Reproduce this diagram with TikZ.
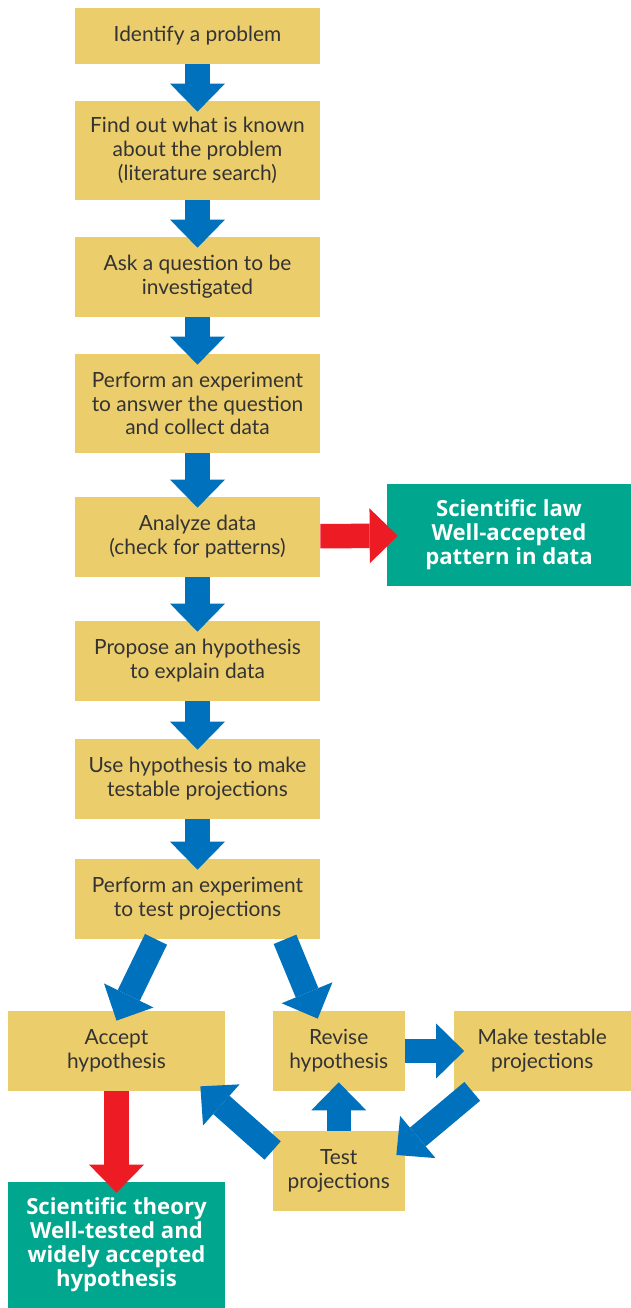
\documentclass[tikz,border=0pt]{standalone}
\usepackage{fontspec}
\setmainfont{Lato}
\newfontfamily\resultfont{Open Sans}
\usetikzlibrary{arrows.meta}
\definecolor{stepyellow}{RGB}{235,205,108}
\definecolor{flowblue}{RGB}{0,113,188}
\definecolor{resultred}{RGB}{237,28,36}
\definecolor{resultgreen}{RGB}{0,166,141}
\definecolor{textgray}{RGB}{51,51,51}

\begin{document}
\begin{tikzpicture}[
  stepbox/.style={fill=stepyellow, text=textgray, align=center, inner sep=0pt,
    minimum width=4.9cm, minimum height=1.6cm, font=\fontsize{11.9}{13.6}\selectfont},
  resultbox/.style={fill=resultgreen, text=white, align=center, inner sep=0pt,
    font=\resultfont\fontsize{12.6}{13.6}\selectfont\bfseries},
  flow/.style={draw=flowblue, line width=0.49cm,
    -{Triangle[length=0.56cm, width=1.1cm, line width=0pt]}},
  result/.style={flow, draw=resultred},
  into/.style={shorten >=-0.22cm}
]
  \useasboundingbox (0, 0) rectangle (12.62, 26.16);

  % main column
  \node [stepbox, minimum height=1.12cm] at (3.95, 25.44) (find) {Identify a problem};
  \node [stepbox, minimum height=1.98cm] at (3.95, 23.15) (known) {Find out what is known\\about the problem\\(literature search)};
  \node [stepbox] at (3.95, 20.62) (ask) {Ask a question to be\\investigated};
  \node [stepbox, minimum height=1.98cm] at (3.95, 18.09) (collect) {Perform an experiment\\to answer the question\\and collect data};
  \node [stepbox] at (3.95, 15.42) (analyze) {Analyze data\\(check for patterns)};
  \node [stepbox] at (3.95, 12.94) (propose) {Propose an hypothesis\\to explain data};
  \node [stepbox] at (3.95, 10.58) (project) {Use hypothesis to make\\testable projections};
  \node [stepbox] at (3.95, 8.18) (testexp) {Perform an experiment\\to test projections};

  % results
  \node [resultbox, minimum width=4.88cm, minimum height=2.04cm] at (10.18, 15.46) (law) {Scientific law\\Well-accepted\\pattern in data};
  \node [resultbox, minimum width=4.34cm, minimum height=2.52cm] at (2.33, 1.26) (theory) {Scientific theory\\Well-tested and\\widely accepted\\hypothesis};

  % lower loop
  \node [stepbox, minimum width=4.34cm] at (2.33, 5.14) (accept) {Accept\\hypothesis};
  \node [stepbox, minimum width=2.63cm] at (6.775, 5.14) (revise) {Revise\\hypothesis};
  \node [stepbox, minimum width=3.55cm] at (10.845, 5.14) (remake) {Make testable\\projections};
  \node [stepbox, minimum width=2.63cm] at (6.775, 2.74) (retest) {Test\\projections};

  \draw [flow, into] (find) -- (known);
  \draw [flow, into] (known) -- (ask);
  \draw [flow, into] (ask) -- (collect);
  \draw [flow, into] (collect) -- (analyze);
  \draw [flow, into] (analyze) -- (propose);
  \draw [flow, into] (propose) -- (project);
  \draw [flow, into] (project) -- (testexp);
  \draw [result, into] (analyze) -- (law);
  \draw [result, into] (accept) -- (theory);

  \draw [flow] ([xshift=-0.83cm]testexp.south) -- ([yshift=-0.2cm]accept.north);
  \draw [flow] ([xshift=1.75cm]testexp.south) -- ([xshift=-0.42cm, yshift=-0.16cm]revise.north);
  \draw [flow, into] (revise) -- (remake);
  \draw [flow] ([xshift=-1.4cm]remake.south) -- ([xshift=-0.17cm, yshift=0.32cm]retest.east);
  \draw [flow, shorten >=-0.18cm] (retest) -- (revise);
  \draw [flow] ([yshift=0.41cm]retest.west) -- ([xshift=-0.5cm, yshift=0.1cm]accept.south east);
\end{tikzpicture}
\end{document}
